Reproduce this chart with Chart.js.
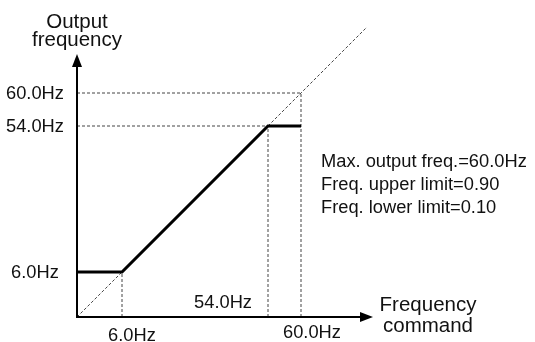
<!DOCTYPE html>
<html>
<head>
<meta charset="utf-8">
<script src="https://cdn.jsdelivr.net/npm/chart.js@4.4.0/dist/chart.umd.min.js"></script>
<style>
  html,body{margin:0;padding:0;background:#fff}
  canvas{display:block}
</style>
</head>
<body>
<canvas id="chart" width="535" height="342"></canvas>
<script>
// --- values (Hz) ---
const outX = [0, 6, 54, 60];          // frequency command
const outY = [6, 6, 54, 54];          // output frequency (clamped by limits)
const diagX = [0, 72];                // dashed reference line output = command
const guideVals = [6, 54, 60];        // dashed guide lines
const yTickVals = [6, 54, 60];
const yTickLabels = ['6.0Hz', '54.0Hz', '60.0Hz'];
const xTickVals = [6, 54, 60];
const xTickLabels = ['6.0Hz', '54.0Hz', '60.0Hz'];
const notes = ['Max. output freq.=60.0Hz', 'Freq. upper limit=0.90', 'Freq. lower limit=0.10'];
const yTitle = ['Output', 'frequency'];
const xTitle = ['Frequency', 'command'];

// schematic (not to scale) axis: value -> pixel offset from origin
const scaleKnots = [[0, 0], [6, 45], [54, 191], [60, 224], [72, 290]];

class BrokenScale extends Chart.LinearScale {
  static id = 'broken';
  static defaults = Chart.LinearScale.defaults;
  offsetFor(v){
    const k = scaleKnots;
    let i = 1;
    while (i < k.length - 1 && v > k[i][0]) i++;
    const [v0, p0] = k[i-1], [v1, p1] = k[i];
    return p0 + (v - v0) * (p1 - p0) / (v1 - v0);
  }
  getPixelForValue(v){
    if (v === null || v === undefined) return NaN;
    const o = this.offsetFor(v);
    return this.isHorizontal() ? this.left + o : this.bottom - o;
  }
}
Chart.register(BrokenScale);

const FAMILY = '"Liberation Sans", Arial, Helvetica, sans-serif';
const LABEL_FONT = '18.3px ' + FAMILY;
const TITLE_FONT = '20.5px ' + FAMILY;
const TXT = '#111';

// guides: vertical from axis up to the diagonal, horizontal from axis across to it
const guideSets = [];
guideVals.forEach(v => {
  guideSets.push([{x:v, y:0}, {x:v, y:v}]);
  guideSets.push([{x:0, y:v}, {x:v, y:v}]);
});

const dashed = {borderColor:'#444', borderWidth:1, borderDash:[3,2], pointRadius:0, clip:false, tension:0};

const schematic = {
  id: 'schematic',
  afterDatasetsDraw(chart){
    const {ctx, scales:{x, y}, chartArea} = chart;
    const ox = x.getPixelForValue(0), oy = y.getPixelForValue(0);
    const top = chartArea.top, right = chartArea.right;
    ctx.save();
    ctx.strokeStyle = '#000'; ctx.fillStyle = '#000'; ctx.lineWidth = 2;
    ctx.beginPath();
    ctx.moveTo(ox, oy + 1); ctx.lineTo(ox, top + 10);
    ctx.moveTo(ox - 1, oy); ctx.lineTo(right - 10, oy);
    ctx.stroke();
    ctx.beginPath();
    ctx.moveTo(ox, top); ctx.lineTo(ox - 5, top + 13); ctx.lineTo(ox + 5, top + 13); ctx.closePath(); ctx.fill();
    ctx.beginPath();
    ctx.moveTo(right, oy); ctx.lineTo(right - 13, oy - 5); ctx.lineTo(right - 13, oy + 5); ctx.closePath(); ctx.fill();

    ctx.font = LABEL_FONT; ctx.fillStyle = TXT;
    // y tick labels
    ctx.textAlign = 'center'; ctx.textBaseline = 'middle';
    yTickVals.forEach((v, i) => ctx.fillText(yTickLabels[i], ox - 42, y.getPixelForValue(v) + 1));
    // x tick labels
    ctx.textBaseline = 'alphabetic';
    ctx.fillText(xTickLabels[0], x.getPixelForValue(xTickVals[0]) + 10, oy + 24);
    ctx.fillText(xTickLabels[2], x.getPixelForValue(xTickVals[2]) + 11, oy + 21);
    ctx.textAlign = 'right';
    ctx.fillText(xTickLabels[1], x.getPixelForValue(xTickVals[1]) - 16, oy - 9);
    // notes
    ctx.textAlign = 'left';
    notes.forEach((t, i) => ctx.fillText(t, 321, 167 + i * 23));
    // axis titles
    ctx.font = TITLE_FONT; ctx.textAlign = 'center';
    ctx.fillText(yTitle[0], ox, 28);
    ctx.fillText(yTitle[1], ox, 46);
    ctx.fillText(xTitle[0], right + 55, oy - 6);
    ctx.fillText(xTitle[1], right + 55, oy + 15);
    ctx.restore();
  }
};

new Chart(document.getElementById('chart'), {
  type: 'line',
  data: {
    datasets: [
      {data: outX.map((v, i) => ({x:v, y:outY[i]})), borderColor:'#000', borderWidth:3, pointRadius:0, clip:false, tension:0},
      {data: diagX.map(v => ({x:v, y:v})), ...dashed},
      ...guideSets.map(d => ({data:d, ...dashed}))
    ]
  },
  options: {
    responsive: false,
    animation: false,
    layout: {padding: {left:77, top:54, right:162, bottom:25}},
    plugins: {legend:{display:false}, tooltip:{enabled:false}},
    scales: {
      x: {type:'broken', display:false, min:0, max:72},
      y: {type:'broken', display:false, min:0, max:72}
    }
  },
  plugins: [schematic]
});
</script>
</body>
</html>
